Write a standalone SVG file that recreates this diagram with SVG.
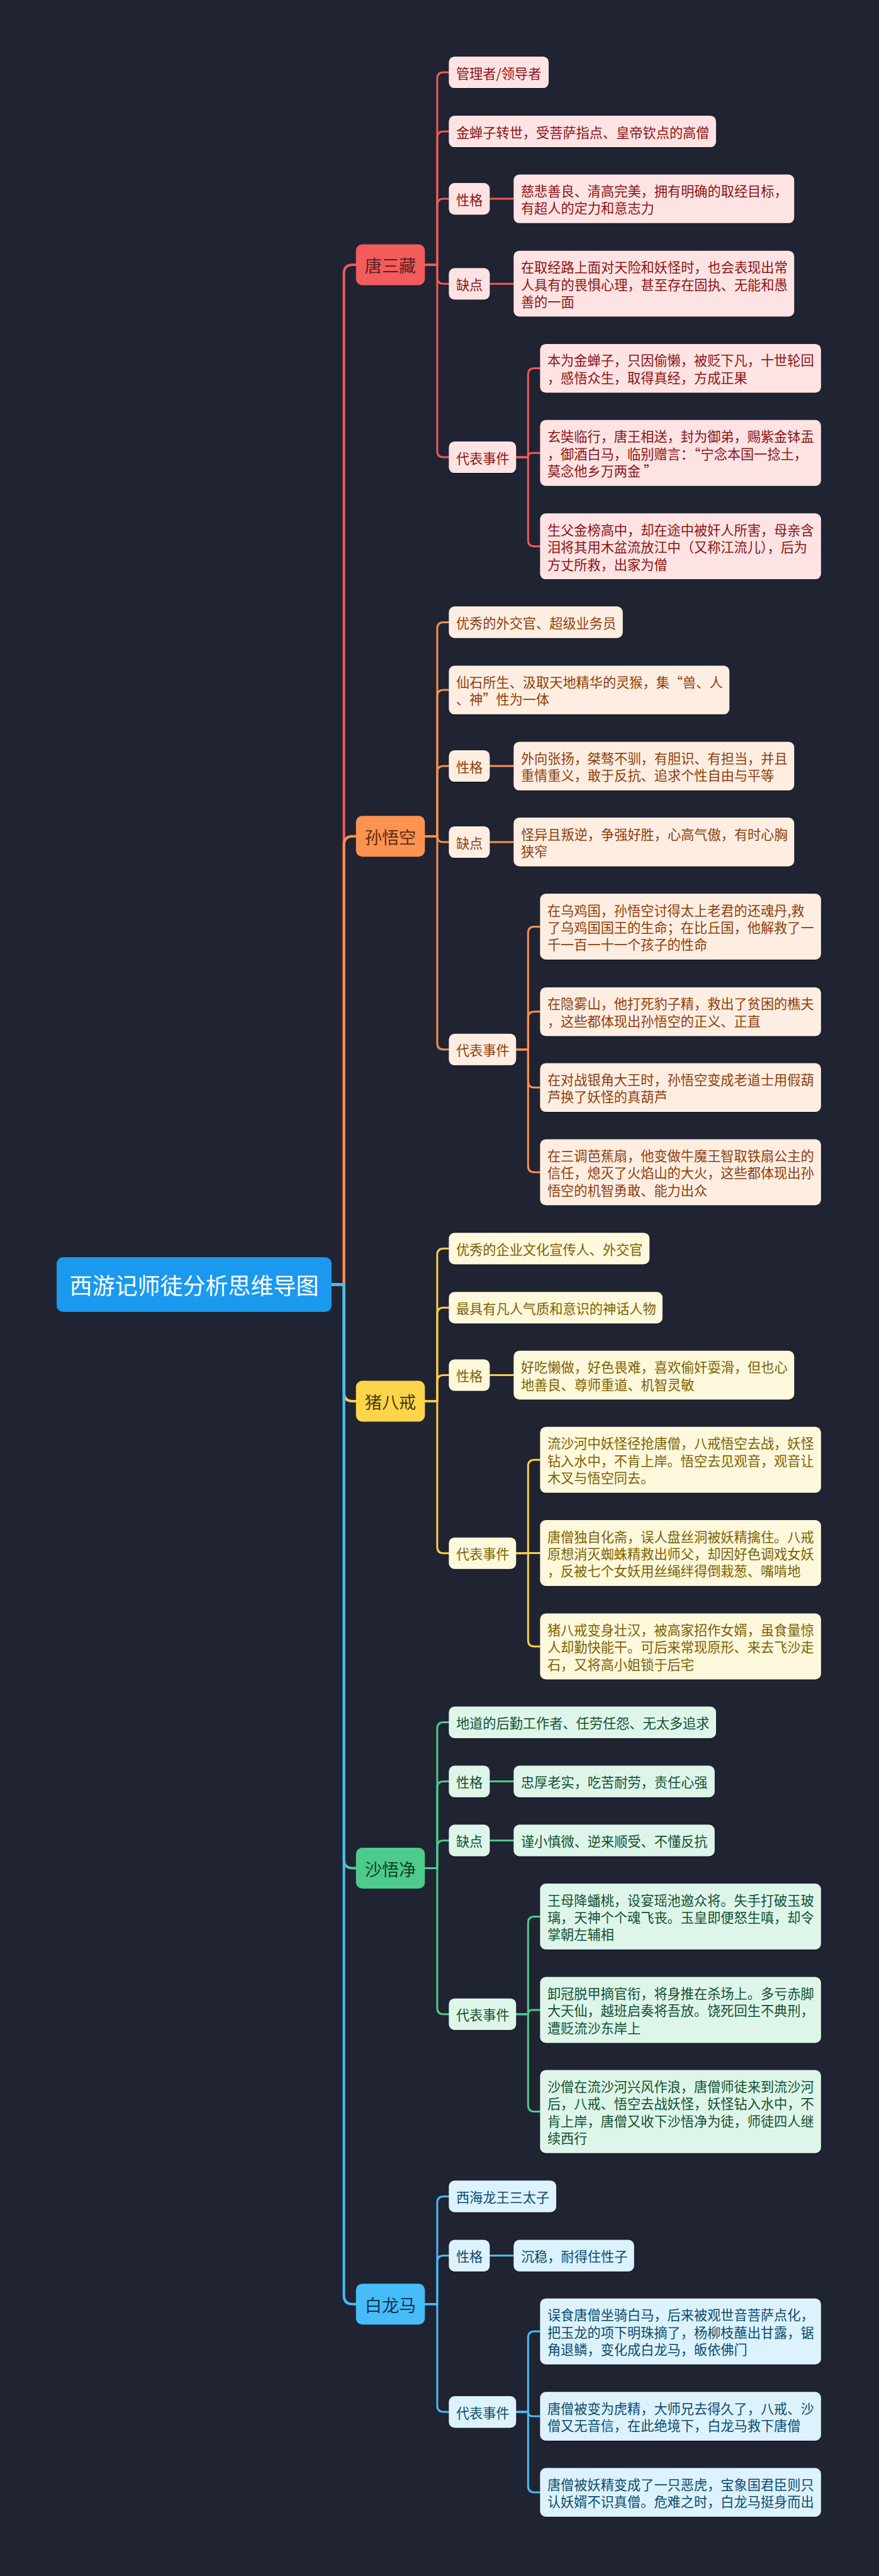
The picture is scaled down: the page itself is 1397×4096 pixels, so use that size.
<svg xmlns="http://www.w3.org/2000/svg" width="1397" height="4096" viewBox="0 0 1397 4096">
<style>
text{font-family:"Noto Sans CJK SC","Noto Sans",sans-serif;dominant-baseline:central}
.leaf rect{filter:url(#sh)}
.leaf text{font-size:21.2px}
.branch text{font-size:27.2px;text-anchor:middle}
.root text{font-size:36px;text-anchor:middle;fill:#ffffff}
.c path{fill:none;stroke-linecap:round;stroke-linejoin:round}
.c .l1{stroke-width:4}
.c .l2{stroke-width:3}
.red.leaf rect{fill:#fde3e3}.red.leaf text{fill:#8c1414}.red.branch rect{fill:#f25c5c}.red.branch text{fill:#5a1f1f}.red-l{stroke:#f05a5a}
.org.leaf rect{fill:#feeee2}.org.leaf text{fill:#8f3e0b}.org.branch rect{fill:#fd9350}.org.branch text{fill:#5c2c10}.org-l{stroke:#f9914e}
.yel.leaf rect{fill:#fef8dc}.yel.leaf text{fill:#7d6200}.yel.branch rect{fill:#fdd54a}.yel.branch text{fill:#4d3d05}.yel-l{stroke:#f8d048}
.grn.leaf rect{fill:#def6ea}.grn.leaf text{fill:#125031}.grn.branch rect{fill:#4ccb8b}.grn.branch text{fill:#0f3f26}.grn-l{stroke:#4ccb8b}
.blu.leaf rect{fill:#dcf3fe}.blu.leaf text{fill:#0c4a6e}.blu.branch rect{fill:#46bdf9}.blu.branch text{fill:#0c3550}.blu-l{stroke:#46bdf9}
</style>
<defs>
<filter id="sh" x="-5%" y="-10%" width="110%" height="130%"><feDropShadow dx="0" dy="1.2" stdDeviation="0.6" flood-color="#000" flood-opacity="0.6"/></filter>
</defs>
<rect x="0" y="0" width="1397" height="4096" fill="#202331"/>

<g id="connectors" class="c">
<!-- level 1 -->
<path class="l1 red-l" d="M527 2042.4 H546.6 V435 Q546.6 421 560.6 421 H565.7"/>
<path class="l1 org-l" d="M527 2042.4 H546.6 V1343.8 Q546.6 1329.8 560.6 1329.8 H565.7"/>
<path class="l1 yel-l" d="M527 2042.4 H546.6 V2214 Q546.6 2228 560.6 2228 H565.7"/>
<path class="l1 grn-l" d="M527 2042.4 H546.6 V2956.5 Q546.6 2970.5 560.6 2970.5 H565.7"/>
<path class="l1 blu-l" d="M527 2042.4 H546.6 V3649.7 Q546.6 3663.7 560.6 3663.7 H565.7"/>
<!-- 唐三藏 -->
<path class="l2 red-l" d="M675.3 421 H694.9 V125 Q694.9 115 704.9 115 H713.4"/>
<path class="l2 red-l" d="M675.3 421 H694.9 V219 Q694.9 209 704.9 209 H713.4"/>
<path class="l2 red-l" d="M675.3 421 H694.9 V326.1 Q694.9 316.1 704.9 316.1 H713.4"/>
<path class="l2 red-l" d="M675.3 421 H694.9 V441.3 Q694.9 451.3 704.9 451.3 H713.4"/>
<path class="l2 red-l" d="M675.3 421 H694.9 V717 Q694.9 727 704.9 727 H713.4"/>
<path class="l2 red-l" d="M778.3 316.1 H816.4"/>
<path class="l2 red-l" d="M778.3 451.2 H816.4"/>
<path class="l2 red-l" d="M820.2 727 H839.3 V595.6 Q839.3 585.6 849.3 585.6 H858.4"/>
<path class="l2 red-l" d="M820.2 727 H839.3 Q839.3 720.2 846.1 720.2 H858.4"/>
<path class="l2 red-l" d="M820.2 727 H839.3 V858.7 Q839.3 868.7 849.3 868.7 H858.4"/>
<!-- 孙悟空 -->
<path class="l2 org-l" d="M675.3 1329.8 H694.9 V999.4 Q694.9 989.4 704.9 989.4 H713.4"/>
<path class="l2 org-l" d="M675.3 1329.8 H694.9 V1107.1 Q694.9 1097.1 704.9 1097.1 H713.4"/>
<path class="l2 org-l" d="M675.3 1329.8 H694.9 V1228 Q694.9 1218 704.9 1218 H713.4"/>
<path class="l2 org-l" d="M675.3 1329.8 H694.9 Q694.9 1339 704.1 1339 H713.4"/>
<path class="l2 org-l" d="M675.3 1329.8 H694.9 V1658.8 Q694.9 1668.8 704.9 1668.8 H713.4"/>
<path class="l2 org-l" d="M778.3 1218 H816.4"/>
<path class="l2 org-l" d="M778.3 1339 H816.4"/>
<path class="l2 org-l" d="M820.2 1668.8 H839.3 V1483.4 Q839.3 1473.4 849.3 1473.4 H858.4"/>
<path class="l2 org-l" d="M820.2 1668.8 H839.3 V1618.6 Q839.3 1608.6 849.3 1608.6 H858.4"/>
<path class="l2 org-l" d="M820.2 1668.8 H839.3 V1719.3 Q839.3 1729.3 849.3 1729.3 H858.4"/>
<path class="l2 org-l" d="M820.2 1668.8 H839.3 V1853.9 Q839.3 1863.9 849.3 1863.9 H858.4"/>
<!-- 猪八戒 -->
<path class="l2 yel-l" d="M675.3 2228 H694.9 V1995.2 Q694.9 1985.2 704.9 1985.2 H713.4"/>
<path class="l2 yel-l" d="M675.3 2228 H694.9 V2089.2 Q694.9 2079.2 704.9 2079.2 H713.4"/>
<path class="l2 yel-l" d="M675.3 2228 H694.9 V2196.5 Q694.9 2186.5 704.9 2186.5 H713.4"/>
<path class="l2 yel-l" d="M675.3 2228 H694.9 V2459.7 Q694.9 2469.7 704.9 2469.7 H713.4"/>
<path class="l2 yel-l" d="M778.3 2186.5 H816.4"/>
<path class="l2 yel-l" d="M820.2 2469.7 H839.3 V2331.2 Q839.3 2321.2 849.3 2321.2 H858.4"/>
<path class="l2 yel-l" d="M820.2 2469.5 H858.4"/>
<path class="l2 yel-l" d="M820.2 2469.7 H839.3 V2607.9 Q839.3 2617.9 849.3 2617.9 H858.4"/>
<!-- 沙悟净 -->
<path class="l2 grn-l" d="M675.3 2970.5 H694.9 V2748.6 Q694.9 2738.6 704.9 2738.6 H713.4"/>
<path class="l2 grn-l" d="M675.3 2970.5 H694.9 V2842.6 Q694.9 2832.6 704.9 2832.6 H713.4"/>
<path class="l2 grn-l" d="M675.3 2970.5 H694.9 V2936.4 Q694.9 2926.4 704.9 2926.4 H713.4"/>
<path class="l2 grn-l" d="M675.3 2970.5 H694.9 V3192.7 Q694.9 3202.7 704.9 3202.7 H713.4"/>
<path class="l2 grn-l" d="M778.3 2832.6 H816.4"/>
<path class="l2 grn-l" d="M778.3 2926.4 H816.4"/>
<path class="l2 grn-l" d="M820.2 3202.7 H839.3 V3057.4 Q839.3 3047.4 849.3 3047.4 H858.4"/>
<path class="l2 grn-l" d="M820.2 3202.7 H839.3 Q839.3 3195.9 846.1 3195.9 H858.4"/>
<path class="l2 grn-l" d="M820.2 3202.7 H839.3 V3347.5 Q839.3 3357.5 849.3 3357.5 H858.4"/>
<!-- 白龙马 -->
<path class="l2 blu-l" d="M675.3 3663.7 H694.9 V3502.4 Q694.9 3492.4 704.9 3492.4 H713.4"/>
<path class="l2 blu-l" d="M675.3 3663.7 H694.9 V3596.6 Q694.9 3586.6 704.9 3586.6 H713.4"/>
<path class="l2 blu-l" d="M675.3 3663.7 H694.9 V3825.1 Q694.9 3835.1 704.9 3835.1 H713.4"/>
<path class="l2 blu-l" d="M778.3 3586.6 H816.4"/>
<path class="l2 blu-l" d="M820.2 3835.1 H839.3 V3717.1 Q839.3 3707.1 849.3 3707.1 H858.4"/>
<path class="l2 blu-l" d="M820.2 3835.1 H839.3 Q839.3 3842 846.2 3842 H858.4"/>
<path class="l2 blu-l" d="M820.2 3835.1 H839.3 V3953 Q839.3 3963 849.3 3963 H858.4"/>
</g>

<g id="root" class="root"><rect x="90" y="1999" width="437" height="87" rx="10" fill="#1a99ef"/><text x="308.5" y="2042.4">西游记师徒分析思维导图</text></g>

<!-- 唐三藏 -->
<g id="n-tang" class="branch red"><rect x="565.7" y="388.5" width="109.6" height="65" rx="10"/><text x="620.5" y="421">唐三藏</text></g>
<g id="tang-1" class="leaf red"><rect x="713.4" y="89.95" width="158.6" height="50.1" rx="9"/><text x="724.9" y="115">管理者/领导者</text></g>
<g id="tang-2" class="leaf red"><rect x="713.4" y="183.95" width="424.6" height="50.1" rx="9"/><text x="724.9" y="209">金蝉子转世，受菩萨指点、皇帝钦点的高僧</text></g>
<g id="tang-3" class="leaf red"><rect x="713.4" y="291.05" width="64.9" height="50.1" rx="9"/><text x="724.9" y="316.1">性格</text></g>
<g id="tang-3a" class="leaf red"><rect x="816.4" y="277.4" width="445.8" height="77.4" rx="9"/><text x="827.9" y="302.45">慈悲善良、清高完美，拥有明确的取经目标，</text><text x="827.9" y="329.75">有超人的定力和意志力</text></g>
<g id="tang-4" class="leaf red"><rect x="713.4" y="426.25" width="64.9" height="50.1" rx="9"/><text x="724.9" y="451.3">缺点</text></g>
<g id="tang-4a" class="leaf red"><rect x="816.4" y="398.65" width="445.8" height="104.7" rx="9"/><text x="827.9" y="423.7">在取经路上面对天险和妖怪时，也会表现出常</text><text x="827.9" y="451">人具有的畏惧心理，甚至存在固执、无能和愚</text><text x="827.9" y="478.3">善的一面</text></g>
<g id="tang-5" class="leaf red"><rect x="713.4" y="701.95" width="106.8" height="50.1" rx="9"/><text x="724.9" y="727">代表事件</text></g>
<g id="tang-5a" class="leaf red"><rect x="858.4" y="546.9" width="446.4" height="77.4" rx="9"/><text x="869.9" y="571.95">本为金蝉子，只因偷懒，被贬下凡，十世轮回</text><text x="869.9" y="599.25">，感悟众生，取得真经，方成正果</text></g>
<g id="tang-5b" class="leaf red"><rect x="858.4" y="667.85" width="446.4" height="104.7" rx="9"/><text x="869.9" y="692.9">玄奘临行，唐王相送，封为御弟，赐紫金钵盂</text><text x="869.9" y="720.2">，御酒白马，临别赠言：“宁念本国一捻土，</text><text x="869.9" y="747.5">莫念他乡万两金 ”</text></g>
<g id="tang-5c" class="leaf red"><rect x="858.4" y="816.35" width="446.4" height="104.7" rx="9"/><text x="869.9" y="841.4">生父金榜高中，却在途中被奸人所害，母亲含</text><text x="869.9" y="868.7">泪将其用木盆流放江中（又称江流儿），后为</text><text x="869.9" y="896">方丈所救，出家为僧</text></g>

<!-- 孙悟空 -->
<g id="n-sun" class="branch org"><rect x="565.7" y="1297.3" width="109.6" height="65" rx="10"/><text x="620.5" y="1329.8">孙悟空</text></g>
<g id="sun-1" class="leaf org"><rect x="713.4" y="964.35" width="276.3" height="50.1" rx="9"/><text x="724.9" y="989.4">优秀的外交官、超级业务员</text></g>
<g id="sun-2" class="leaf org"><rect x="713.4" y="1058.4" width="445.8" height="77.4" rx="9"/><text x="724.9" y="1083.45">仙石所生、汲取天地精华的灵猴，集“兽、人</text><text x="724.9" y="1110.75">、神”性为一体</text></g>
<g id="sun-3" class="leaf org"><rect x="713.4" y="1192.95" width="64.9" height="50.1" rx="9"/><text x="724.9" y="1218">性格</text></g>
<g id="sun-3a" class="leaf org"><rect x="816.4" y="1179.4" width="445.8" height="77.4" rx="9"/><text x="827.9" y="1204.45">外向张扬，桀骜不驯，有胆识、有担当，并且</text><text x="827.9" y="1231.75">重情重义，敢于反抗、追求个性自由与平等</text></g>
<g id="sun-4" class="leaf org"><rect x="713.4" y="1313.95" width="64.9" height="50.1" rx="9"/><text x="724.9" y="1339">缺点</text></g>
<g id="sun-4a" class="leaf org"><rect x="816.4" y="1300.1" width="445.8" height="77.4" rx="9"/><text x="827.9" y="1325.15">怪异且叛逆，争强好胜，心高气傲，有时心胸</text><text x="827.9" y="1352.45">狭窄</text></g>
<g id="sun-5" class="leaf org"><rect x="713.4" y="1643.75" width="106.8" height="50.1" rx="9"/><text x="724.9" y="1668.8">代表事件</text></g>
<g id="sun-5a" class="leaf org"><rect x="858.4" y="1421.05" width="446.4" height="104.7" rx="9"/><text x="869.9" y="1446.1">在乌鸡国，孙悟空讨得太上老君的还魂丹,救</text><text x="869.9" y="1473.4">了乌鸡国国王的生命；在比丘国，他解救了一</text><text x="869.9" y="1500.7">千一百一十一个孩子的性命</text></g>
<g id="sun-5b" class="leaf org"><rect x="858.4" y="1569.9" width="446.4" height="77.4" rx="9"/><text x="869.9" y="1594.95">在隐雾山，他打死豹子精，救出了贫困的樵夫</text><text x="869.9" y="1622.25">，这些都体现出孙悟空的正义、正直</text></g>
<g id="sun-5c" class="leaf org"><rect x="858.4" y="1690.6" width="446.4" height="77.4" rx="9"/><text x="869.9" y="1715.65">在对战银角大王时，孙悟空变成老道士用假葫</text><text x="869.9" y="1742.95">芦换了妖怪的真葫芦</text></g>
<g id="sun-5d" class="leaf org"><rect x="858.4" y="1811.55" width="446.4" height="104.7" rx="9"/><text x="869.9" y="1836.6">在三调芭蕉扇，他变做牛魔王智取铁扇公主的</text><text x="869.9" y="1863.9">信任，熄灭了火焰山的大火，这些都体现出孙</text><text x="869.9" y="1891.2">悟空的机智勇敢、能力出众</text></g>

<!-- 猪八戒 -->
<g id="n-zhu" class="branch yel"><rect x="565.7" y="2195.5" width="109.6" height="65" rx="10"/><text x="620.5" y="2228">猪八戒</text></g>
<g id="zhu-1" class="leaf yel"><rect x="713.4" y="1960.15" width="318.8" height="50.1" rx="9"/><text x="724.9" y="1985.2">优秀的企业文化宣传人、外交官</text></g>
<g id="zhu-2" class="leaf yel"><rect x="713.4" y="2054.15" width="339.5" height="50.1" rx="9"/><text x="724.9" y="2079.2">最具有凡人气质和意识的神话人物</text></g>
<g id="zhu-3" class="leaf yel"><rect x="713.4" y="2161.45" width="64.9" height="50.1" rx="9"/><text x="724.9" y="2186.5">性格</text></g>
<g id="zhu-3a" class="leaf yel"><rect x="816.4" y="2147.8" width="445.8" height="77.4" rx="9"/><text x="827.9" y="2172.85">好吃懒做，好色畏难，喜欢偷奸耍滑，但也心</text><text x="827.9" y="2200.15">地善良、尊师重道、机智灵敏</text></g>
<g id="zhu-4" class="leaf yel"><rect x="713.4" y="2444.65" width="106.8" height="50.1" rx="9"/><text x="724.9" y="2469.7">代表事件</text></g>
<g id="zhu-4a" class="leaf yel"><rect x="858.4" y="2268.85" width="446.4" height="104.7" rx="9"/><text x="869.9" y="2293.9">流沙河中妖怪径抢唐僧，八戒悟空去战，妖怪</text><text x="869.9" y="2321.2">钻入水中，不肯上岸。悟空去见观音，观音让</text><text x="869.9" y="2348.5">木叉与悟空同去。</text></g>
<g id="zhu-4b" class="leaf yel"><rect x="858.4" y="2417.05" width="446.4" height="104.7" rx="9"/><text x="869.9" y="2442.1">唐僧独自化斋，误人盘丝洞被妖精擒住。八戒</text><text x="869.9" y="2469.4">原想消灭蜘蛛精救出师父，却因好色调戏女妖</text><text x="869.9" y="2496.7">，反被七个女妖用丝绳绊得倒栽葱、嘴啃地</text></g>
<g id="zhu-4c" class="leaf yel"><rect x="858.4" y="2565.55" width="446.4" height="104.7" rx="9"/><text x="869.9" y="2590.6">猪八戒变身壮汉，被高家招作女婿，虽食量惊</text><text x="869.9" y="2617.9">人却勤快能干。可后来常现原形、来去飞沙走</text><text x="869.9" y="2645.2">石，又将高小姐锁于后宅</text></g>

<!-- 沙悟净 -->
<g id="n-sha" class="branch grn"><rect x="565.7" y="2938" width="109.6" height="65" rx="10"/><text x="620.5" y="2970.5">沙悟净</text></g>
<g id="sha-1" class="leaf grn"><rect x="713.4" y="2713.55" width="424.6" height="50.1" rx="9"/><text x="724.9" y="2738.6">地道的后勤工作者、任劳任怨、无太多追求</text></g>
<g id="sha-2" class="leaf grn"><rect x="713.4" y="2807.55" width="64.9" height="50.1" rx="9"/><text x="724.9" y="2832.6">性格</text></g>
<g id="sha-2a" class="leaf grn"><rect x="816.4" y="2807.55" width="319.4" height="50.1" rx="9"/><text x="827.9" y="2832.6">忠厚老实，吃苦耐劳，责任心强</text></g>
<g id="sha-3" class="leaf grn"><rect x="713.4" y="2901.35" width="64.9" height="50.1" rx="9"/><text x="724.9" y="2926.4">缺点</text></g>
<g id="sha-3a" class="leaf grn"><rect x="816.4" y="2901.35" width="319.4" height="50.1" rx="9"/><text x="827.9" y="2926.4">谨小慎微、逆来顺受、不懂反抗</text></g>
<g id="sha-4" class="leaf grn"><rect x="713.4" y="3177.65" width="106.8" height="50.1" rx="9"/><text x="724.9" y="3202.7">代表事件</text></g>
<g id="sha-4a" class="leaf grn"><rect x="858.4" y="2995.05" width="446.4" height="104.7" rx="9"/><text x="869.9" y="3020.1">王母降蟠桃，设宴瑶池邀众将。失手打破玉玻</text><text x="869.9" y="3047.4">璃，天神个个魂飞丧。玉皇即便怒生嗔，却令</text><text x="869.9" y="3074.7">掌朝左辅相</text></g>
<g id="sha-4b" class="leaf grn"><rect x="858.4" y="3143.55" width="446.4" height="104.7" rx="9"/><text x="869.9" y="3168.6">卸冠脱甲摘官衔，将身推在杀场上。多亏赤脚</text><text x="869.9" y="3195.9">大天仙，越班启奏将吾放。饶死回生不典刑，</text><text x="869.9" y="3223.2">遭贬流沙东岸上</text></g>
<g id="sha-4c" class="leaf grn"><rect x="858.4" y="3291.5" width="446.4" height="132" rx="9"/><text x="869.9" y="3316.55">沙僧在流沙河兴风作浪，唐僧师徒来到流沙河</text><text x="869.9" y="3343.85">后，八戒、悟空去战妖怪，妖怪钻入水中，不</text><text x="869.9" y="3371.15">肯上岸，唐僧又收下沙悟净为徒，师徒四人继</text><text x="869.9" y="3398.45">续西行</text></g>

<!-- 白龙马 -->
<g id="n-bai" class="branch blu"><rect x="565.7" y="3631.2" width="109.6" height="65" rx="10"/><text x="620.5" y="3663.7">白龙马</text></g>
<g id="bai-1" class="leaf blu"><rect x="713.4" y="3467.35" width="170.6" height="50.1" rx="9"/><text x="724.9" y="3492.4">西海龙王三太子</text></g>
<g id="bai-2" class="leaf blu"><rect x="713.4" y="3561.55" width="64.9" height="50.1" rx="9"/><text x="724.9" y="3586.6">性格</text></g>
<g id="bai-2a" class="leaf blu"><rect x="816.4" y="3561.55" width="191.3" height="50.1" rx="9"/><text x="827.9" y="3586.6">沉稳，耐得住性子</text></g>
<g id="bai-3" class="leaf blu"><rect x="713.4" y="3810.05" width="106.8" height="50.1" rx="9"/><text x="724.9" y="3835.1">代表事件</text></g>
<g id="bai-3a" class="leaf blu"><rect x="858.4" y="3654.75" width="446.4" height="104.7" rx="9"/><text x="869.9" y="3679.8">误食唐僧坐骑白马，后来被观世音菩萨点化，</text><text x="869.9" y="3707.1">把玉龙的项下明珠摘了，杨柳枝蘸出甘露，锯</text><text x="869.9" y="3734.4">角退鳞，变化成白龙马，皈依佛门</text></g>
<g id="bai-3b" class="leaf blu"><rect x="858.4" y="3803.3" width="446.4" height="77.4" rx="9"/><text x="869.9" y="3828.35">唐僧被变为虎精，大师兄去得久了，八戒、沙</text><text x="869.9" y="3855.65">僧又无音信，在此绝境下，白龙马救下唐僧</text></g>
<g id="bai-3c" class="leaf blu"><rect x="858.4" y="3924.3" width="446.4" height="77.4" rx="9"/><text x="869.9" y="3949.35">唐僧被妖精变成了一只恶虎，宝象国君臣则只</text><text x="869.9" y="3976.65">认妖婿不识真僧。危难之时，白龙马挺身而出</text></g>
</svg>
